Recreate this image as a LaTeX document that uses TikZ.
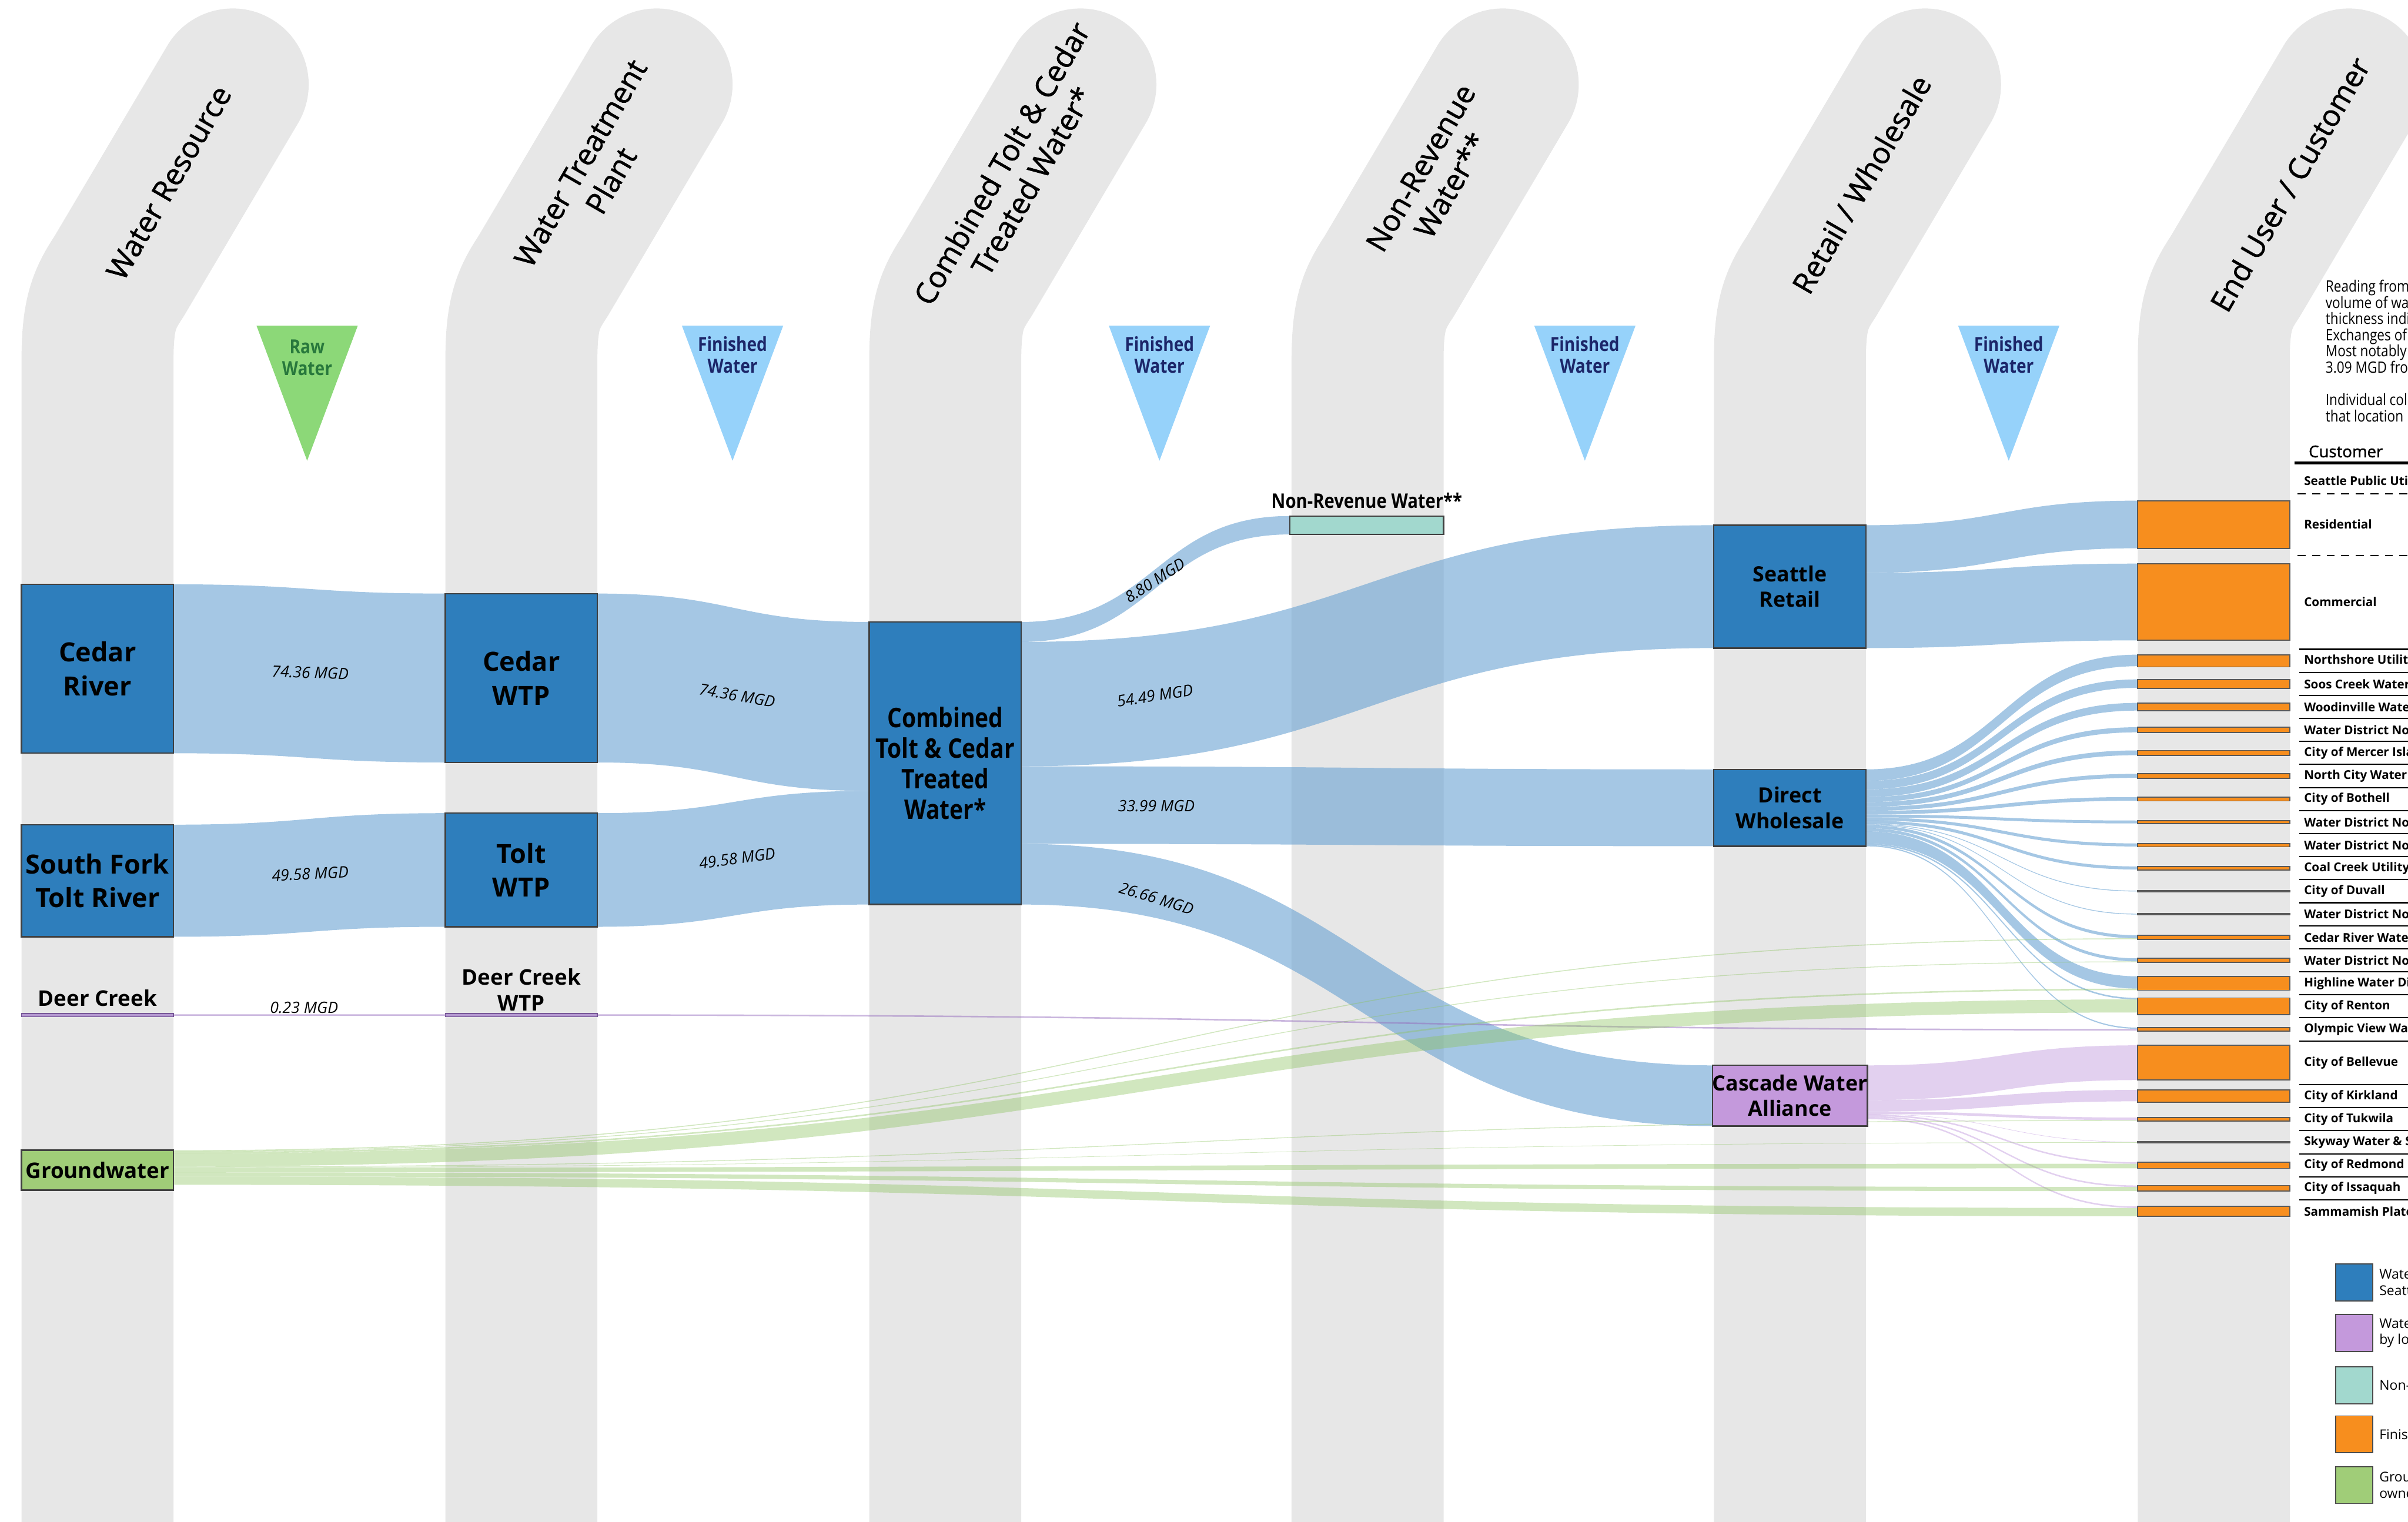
\documentclass[tikz,border=0pt]{standalone}
\usepackage{fontspec}
\setmainfont{Open Sans}
\newfontfamily\condfont{Open Sans}[FakeStretch=0.85]
\newfontfamily\semifont{Open Sans}[AutoFakeBold=1.3]
\usetikzlibrary{calc}

\definecolor{colgray}{RGB}{231,231,231}
\definecolor{boxblue}{RGB}{46,126,188}
\definecolor{flowblue}{RGB}{105,162,210}
\definecolor{flowgreen}{RGB}{140,195,95}
\definecolor{flowpurple}{RGB}{190,150,220}
\definecolor{cwapurple}{RGB}{196,153,220}
\definecolor{nrwteal}{RGB}{162,216,206}
\definecolor{barorange}{RGB}{247,142,30}
\definecolor{gwgreen}{RGB}{160,205,120}
\definecolor{rawgreen}{RGB}{140,216,120}
\definecolor{finblue}{RGB}{150,210,250}
\definecolor{navytext}{RGB}{28,38,105}
\definecolor{rawtext}{RGB}{40,120,60}
\definecolor{dcpurple}{RGB}{150,110,190}

\pgfdeclarelayer{cols}
\pgfdeclarelayer{flows}
\pgfsetlayers{cols,flows,main}

% ribbon between two vertical edges (top/bottom left, top/bottom right)
\newcommand{\ribbon}[5][]{%
  \path[#1] let \p1=(#2), \p2=(#3), \p3=(#4), \p4=(#5), \p5=($(\p1)!0.5!(\p3)$) in
    (\p1) .. controls (\x5,\y1) and (\x5,\y3) .. (\p3) -- (\p4)
    .. controls (\x5,\y4) and (\x5,\y2) .. (\p2) -- cycle;}

\tikzset{
  colband/.style={line width=1.98cm, colgray, line cap=round, line join=round},
  tall/.style={minimum height=#1*0.02cm},
  box/.style={draw=black!75, line width=0.5pt, fill=boxblue, minimum width=1.98cm,
    inner sep=0pt, outer sep=0pt, align=center},
  bigtxt/.style={font=\bfseries\fontsize{9.8}{12.5}\selectfont},
  midtxt/.style={font=\bfseries\fontsize{7.8}{9.4}\selectfont},
  lbltxt/.style={font=\bfseries\fontsize{8}{9.6}\selectfont, align=center, inner sep=0pt},
  bar/.style={draw=black!65, line width=0.4pt, fill=barorange, minimum width=1.98cm,
    inner sep=0pt, outer sep=0pt},
  dcbar/.style={draw=dcpurple!80!black, line width=0.3pt, fill=dcpurple!70,
    minimum width=1.98cm, minimum height=0.04cm, inner sep=0pt, outer sep=0pt},
  flowb/.style={fill=flowblue, fill opacity=0.6},
  flowg/.style={fill=flowgreen, fill opacity=0.4},
  flowp/.style={fill=flowpurple, fill opacity=0.45},
  flowd/.style={fill=dcpurple, fill opacity=0.5},
  mgd/.style={font=\semifont\bfseries\itshape\fontsize{5.8}{7}\selectfont, inner sep=0pt},
  hdr/.style={rotate=60, align=center, font=\semifont\bfseries\fontsize{11}{13}\selectfont},
  tritxt/.style={align=center, font=\condfont\bfseries\fontsize{7.2}{8}\selectfont},
  custlbl/.style={anchor=west, inner sep=0pt, font=\bfseries\fontsize{4.5}{5}\selectfont},
  rowline/.style={line width=0.45pt},
  dashline/.style={line width=0.5pt, dash pattern=on 3pt off 2.4pt},
  legbox/.style={draw=black!70, minimum width=0.48cm, minimum height=0.48cm, inner sep=0pt},
  legtxt/.style={anchor=west, align=left, inner sep=0pt, font=\fontsize{5}{6}\selectfont},
}

\begin{document}
\begin{tikzpicture}[x=0.02cm, y=-0.02cm]
\useasboundingbox (0,0) rectangle (1568,991);

% gray stage columns
\begin{pgfonlayer}{cols}
\foreach \c in {63.5,339.5,615.5,890.5,1165.5,1441.5}
  \draw[colband] (\c,1060) -- (\c,235) .. controls (\c,205) and (\c+4,195) .. (\c+14,180) -- (\c+88,55);
\end{pgfonlayer}

% stage headers
\node[hdr] (h1) at (110,119) {Water Resource};
\node[hdr] (h2) at (388,112) {Water Treatment\\Plant};
\node[hdr] (h3) at (662,112) {Combined Tolt \& Cedar\\Treated Water*};
\node[hdr] (h4) at (935,115) {Non-Revenue\\Water**};
\node[hdr] (h5) at (1212,120) {Retail / Wholesale};
\node[hdr] (h6) at (1491,120) {End User / Customer};

% water type markers
\fill[rawgreen] (167,212) -- (233,212) -- (200,300) -- cycle;
\node[tritxt, text=rawtext] (raw) at (200,233) {Raw\\Water};
\foreach \x [count=\i] in {477,755,1032,1308}{
  \fill[finblue] (\x-33,212) -- (\x+33,212) -- (\x,300) -- cycle;
  \node[tritxt, text=navytext] (fin\i) at (\x,231) {Finished\\Water};
}

% sources and plants
\node[box, tall=110, bigtxt] (cedar) at (63.5,435.5) {Cedar\\River};
\node[box, tall=73, bigtxt] (tolt) at (63.5,573.5) {South Fork\\Tolt River};
\node[dcbar] (deer) at (63.5,661) {};
\node[lbltxt] (deerlbl) at (63.5,650) {Deer Creek};
\node[box, fill=gwgreen, tall=26, lbltxt] (gw) at (63.5,762) {Groundwater};
\node[box, tall=110, bigtxt] (cwtp) at (339.5,441.5) {Cedar\\WTP};
\node[box, tall=74, bigtxt] (twtp) at (339.5,566.5) {Tolt\\WTP};
\node[dcbar] (dcwtp) at (339.5,661) {};
\node[lbltxt] (dcwtplbl) at (339.5,644.5) {Deer Creek\\WTP};
\node[box, tall=184, font=\condfont\bfseries\fontsize{10}{11.3}\selectfont] (comb) at (615.5,497)
  {Combined\\Tolt \& Cedar\\Treated\\Water*};
\node[box, fill=nrwteal, minimum width=2cm, tall=12] (nrw) at (890,342) {};
\node[font=\condfont\bfseries\fontsize{7.5}{9}\selectfont] (nrwlbl) at (890,326) {Non-Revenue Water**};
\node[box, tall=80, midtxt] (sr) at (1165.5,382) {Seattle\\Retail};
\node[box, tall=50, midtxt] (dw) at (1165.5,526) {Direct\\Wholesale};
\node[box, fill=cwapurple, tall=39.5, midtxt] (cwa) at (1165.5,713.5) {Cascade Water\\Alliance};

% customer table
\node[anchor=west, inner sep=0pt, font=\semifont\bfseries\fontsize{6}{7}\selectfont] (custhdr) at (1503,294) {Customer};
\draw[line width=1.1pt] (1494,301.5) -- (1568,301.5);
\node[custlbl] (spu) at (1500,313) {Seattle Public Utilities};
\draw[dashline] (1496,321.5) -- (1568,321.5);
\node[bar, tall=31] (residential) at (1441.5,341.5) {};
\node[custlbl] (reslbl) at (1500,341.5) {Residential};
\draw[dashline] (1496,361.8) -- (1568,361.8);
\node[bar, tall=50] (commercial) at (1441.5,392) {};
\node[custlbl] (comlbl) at (1500,392) {Commercial};
\draw[rowline] (1497,422.8) -- (1568,422.8);
\foreach \nm/\h/\txt [count=\k from 0] in {
    northshore/8/Northshore Utility, soos/5.8/Soos Creek Water, woodinville/5.2/Woodinville Water,
    wda/3.5/Water District No., mercer/3.3/City of Mercer Island, northcity/2.8/North City Water District,
    bothell/2.6/City of Bothell, wdb/2/Water District No., wdc/2.2/Water District No.,
    coalcreek/2.2/Coal Creek Utility, duvall/0.6/City of Duvall, wdd/0.6/Water District No.,
    cedarriverwd/2.6/Cedar River Water, wde/2.5/Water District No., highline/9.1/Highline Water District,
    renton/11/City of Renton, olympic/2.3/Olympic View Water}{
  \pgfmathsetmacro\yc{430.3+15*\k}
  \node[bar, tall=\h] (\nm) at (1441.5,\yc) {};
  \node[custlbl] (\nm lbl) at (1500,\yc) {\txt};
  \draw[rowline] (1497,\yc+7.5) -- (1568,\yc+7.5);
}
\node[bar, tall=22.6] (bellevue) at (1441.5,692) {};
\node[custlbl] (bellevuelbl) at (1500,692) {City of Bellevue};
\draw[rowline] (1497,706.3) -- (1568,706.3);
\foreach \nm/\h/\txt [count=\k from 0] in {
    kirkland/8.1/City of Kirkland, tukwila/2.2/City of Tukwila, skyway/0.6/Skyway Water \& Sewer,
    redmond/4/City of Redmond, issaquah/3.7/City of Issaquah, sammamish/6.4/Sammamish Plateau}{
  \pgfmathsetmacro\yc{713.8+15*\k}
  \node[bar, tall=\h] (\nm) at (1441.5,\yc) {};
  \node[custlbl] (\nm lbl) at (1500,\yc) {\txt};
  \ifnum\k<5 \draw[rowline] (1497,\yc+7.5) -- (1568,\yc+7.5); \fi
}

% flows
\begin{pgfonlayer}{flows}
\ribbon[flowb]{cedar.north east}{cedar.south east}{cwtp.north west}{cwtp.south west}
\ribbon[flowb]{tolt.north east}{tolt.south east}{twtp.north west}{twtp.south west}
\ribbon[flowd]{$(deer.east)+(0,-0.5)$}{$(deer.east)+(0,0.5)$}{$(dcwtp.west)+(0,-0.5)$}{$(dcwtp.west)+(0,0.5)$}
\ribbon[flowb]{cwtp.north east}{cwtp.south east}{comb.north west}{$(comb.north west)+(0,110)$}
\ribbon[flowb]{twtp.north east}{twtp.south east}{$(comb.north west)+(0,110)$}{comb.south west}
\ribbon[flowb]{comb.north east}{$(comb.north east)+(0,13)$}{nrw.north west}{nrw.south west}
\ribbon[flowb]{$(comb.north east)+(0,13)$}{$(comb.north east)+(0,94)$}{sr.north west}{sr.south west}
\ribbon[flowb]{$(comb.north east)+(0,94)$}{$(comb.north east)+(0,144.5)$}{dw.north west}{dw.south west}
\ribbon[flowb]{$(comb.north east)+(0,144.5)$}{comb.south east}{cwa.north west}{cwa.south west}
\ribbon[flowb]{sr.north east}{$(sr.north east)+(0,31)$}{residential.north west}{residential.south west}
\ribbon[flowb]{$(sr.north east)+(0,31)$}{sr.south east}{commercial.north west}{commercial.south west}
\ribbon[flowd]{$(dcwtp.east)+(0,-0.5)$}{$(dcwtp.east)+(0,0.5)$}{$(olympic.north west)+(0,0.9)$}{$(olympic.north west)+(0,1.9)$}
% direct wholesale fan
\gdef\off{0}
\foreach \nm/\w in {northshore/7.5, soos/5.5, woodinville/5, wda/3.3, mercer/3.1, northcity/2.6,
    bothell/2.4, wdb/1.9, wdc/2, coalcreek/2, duvall/0.5, wdd/0.5, cedarriverwd/2, wde/2,
    highline/8, renton/1, olympic/0.8}{
  \ribbon[flowb]{$(dw.north east)+(0,\off)$}{$(dw.north east)+(0,\off+\w)$}{\nm.north west}{$(\nm.north west)+(0,\w)$}
  \pgfmathsetmacro\nxt{\off+\w}\xdef\off{\nxt}
}
% cascade fan
\gdef\off{0}
\foreach \nm/\w in {bellevue/22.6, kirkland/7.4, tukwila/1.7, skyway/0.3, redmond/1, issaquah/1, sammamish/1}{
  \ribbon[flowp]{$(cwa.north east)+(0,\off)$}{$(cwa.north east)+(0,\off+\w)$}{\nm.north west}{$(\nm.north west)+(0,\w)$}
  \pgfmathsetmacro\nxt{\off+\w}\xdef\off{\nxt}
}
% groundwater fan
\gdef\off{0}
\foreach \nm/\w/\o in {cedarriverwd/0.6/2, wde/0.5/2, highline/1/8, renton/8.5/1, tukwila/0.5/1.7,
    skyway/0.3/0.3, redmond/3/1, issaquah/2.7/1, sammamish/5.4/1}{
  \ribbon[flowg]{$(gw.north east)+(0,\off)$}{$(gw.north east)+(0,\off+\w)$}{$(\nm.north west)+(0,\o)$}{$(\nm.north west)+(0,\o+\w)$}
  \pgfmathsetmacro\nxt{\off+\w}\xdef\off{\nxt}
}
\end{pgfonlayer}

% flow volumes
\node[mgd, rotate=-2] (m1) at (202,438) {74.36 MGD};
\node[mgd, rotate=3] (m2) at (202,569) {49.58 MGD};
\node[mgd] (m3) at (198,656) {0.23 MGD};
\node[mgd, rotate=-10] (m4) at (480,453) {74.36 MGD};
\node[mgd, rotate=8] (m5) at (480,559) {49.58 MGD};
\node[mgd, rotate=33] (m6) at (752,378) {8.80 MGD};
\node[mgd, rotate=9] (m7) at (752,453) {54.49 MGD};
\node[mgd] (m8) at (753,525) {33.99 MGD};
\node[mgd, rotate=-17] (m9) at (753,585) {26.66 MGD};

% note
\node[anchor=north west, align=left, inner sep=0pt, font=\condfont\fontsize{5.8}{6}\selectfont] (note) at (1514,182)
  {Reading from\\volume of water\\thickness indicates\\Exchanges of\\Most notably\\3.09 MGD from\\[6pt]Individual colors\\that location};

% legend
\foreach \col/\y/\txt [count=\i] in {boxblue/835/{Water\\Seattle}, cwapurple/868/{Water\\by local},
    nrwteal/902/{Non-Revenue}, barorange/934/{Finished}, gwgreen/967/{Groundwater\\owned}}{
  \node[legbox, fill=\col] (leg\i) at (1533,\y) {};
  \node[legtxt] (legtxt\i) at (1549,\y) {\txt};
}
\end{tikzpicture}
\end{document}
